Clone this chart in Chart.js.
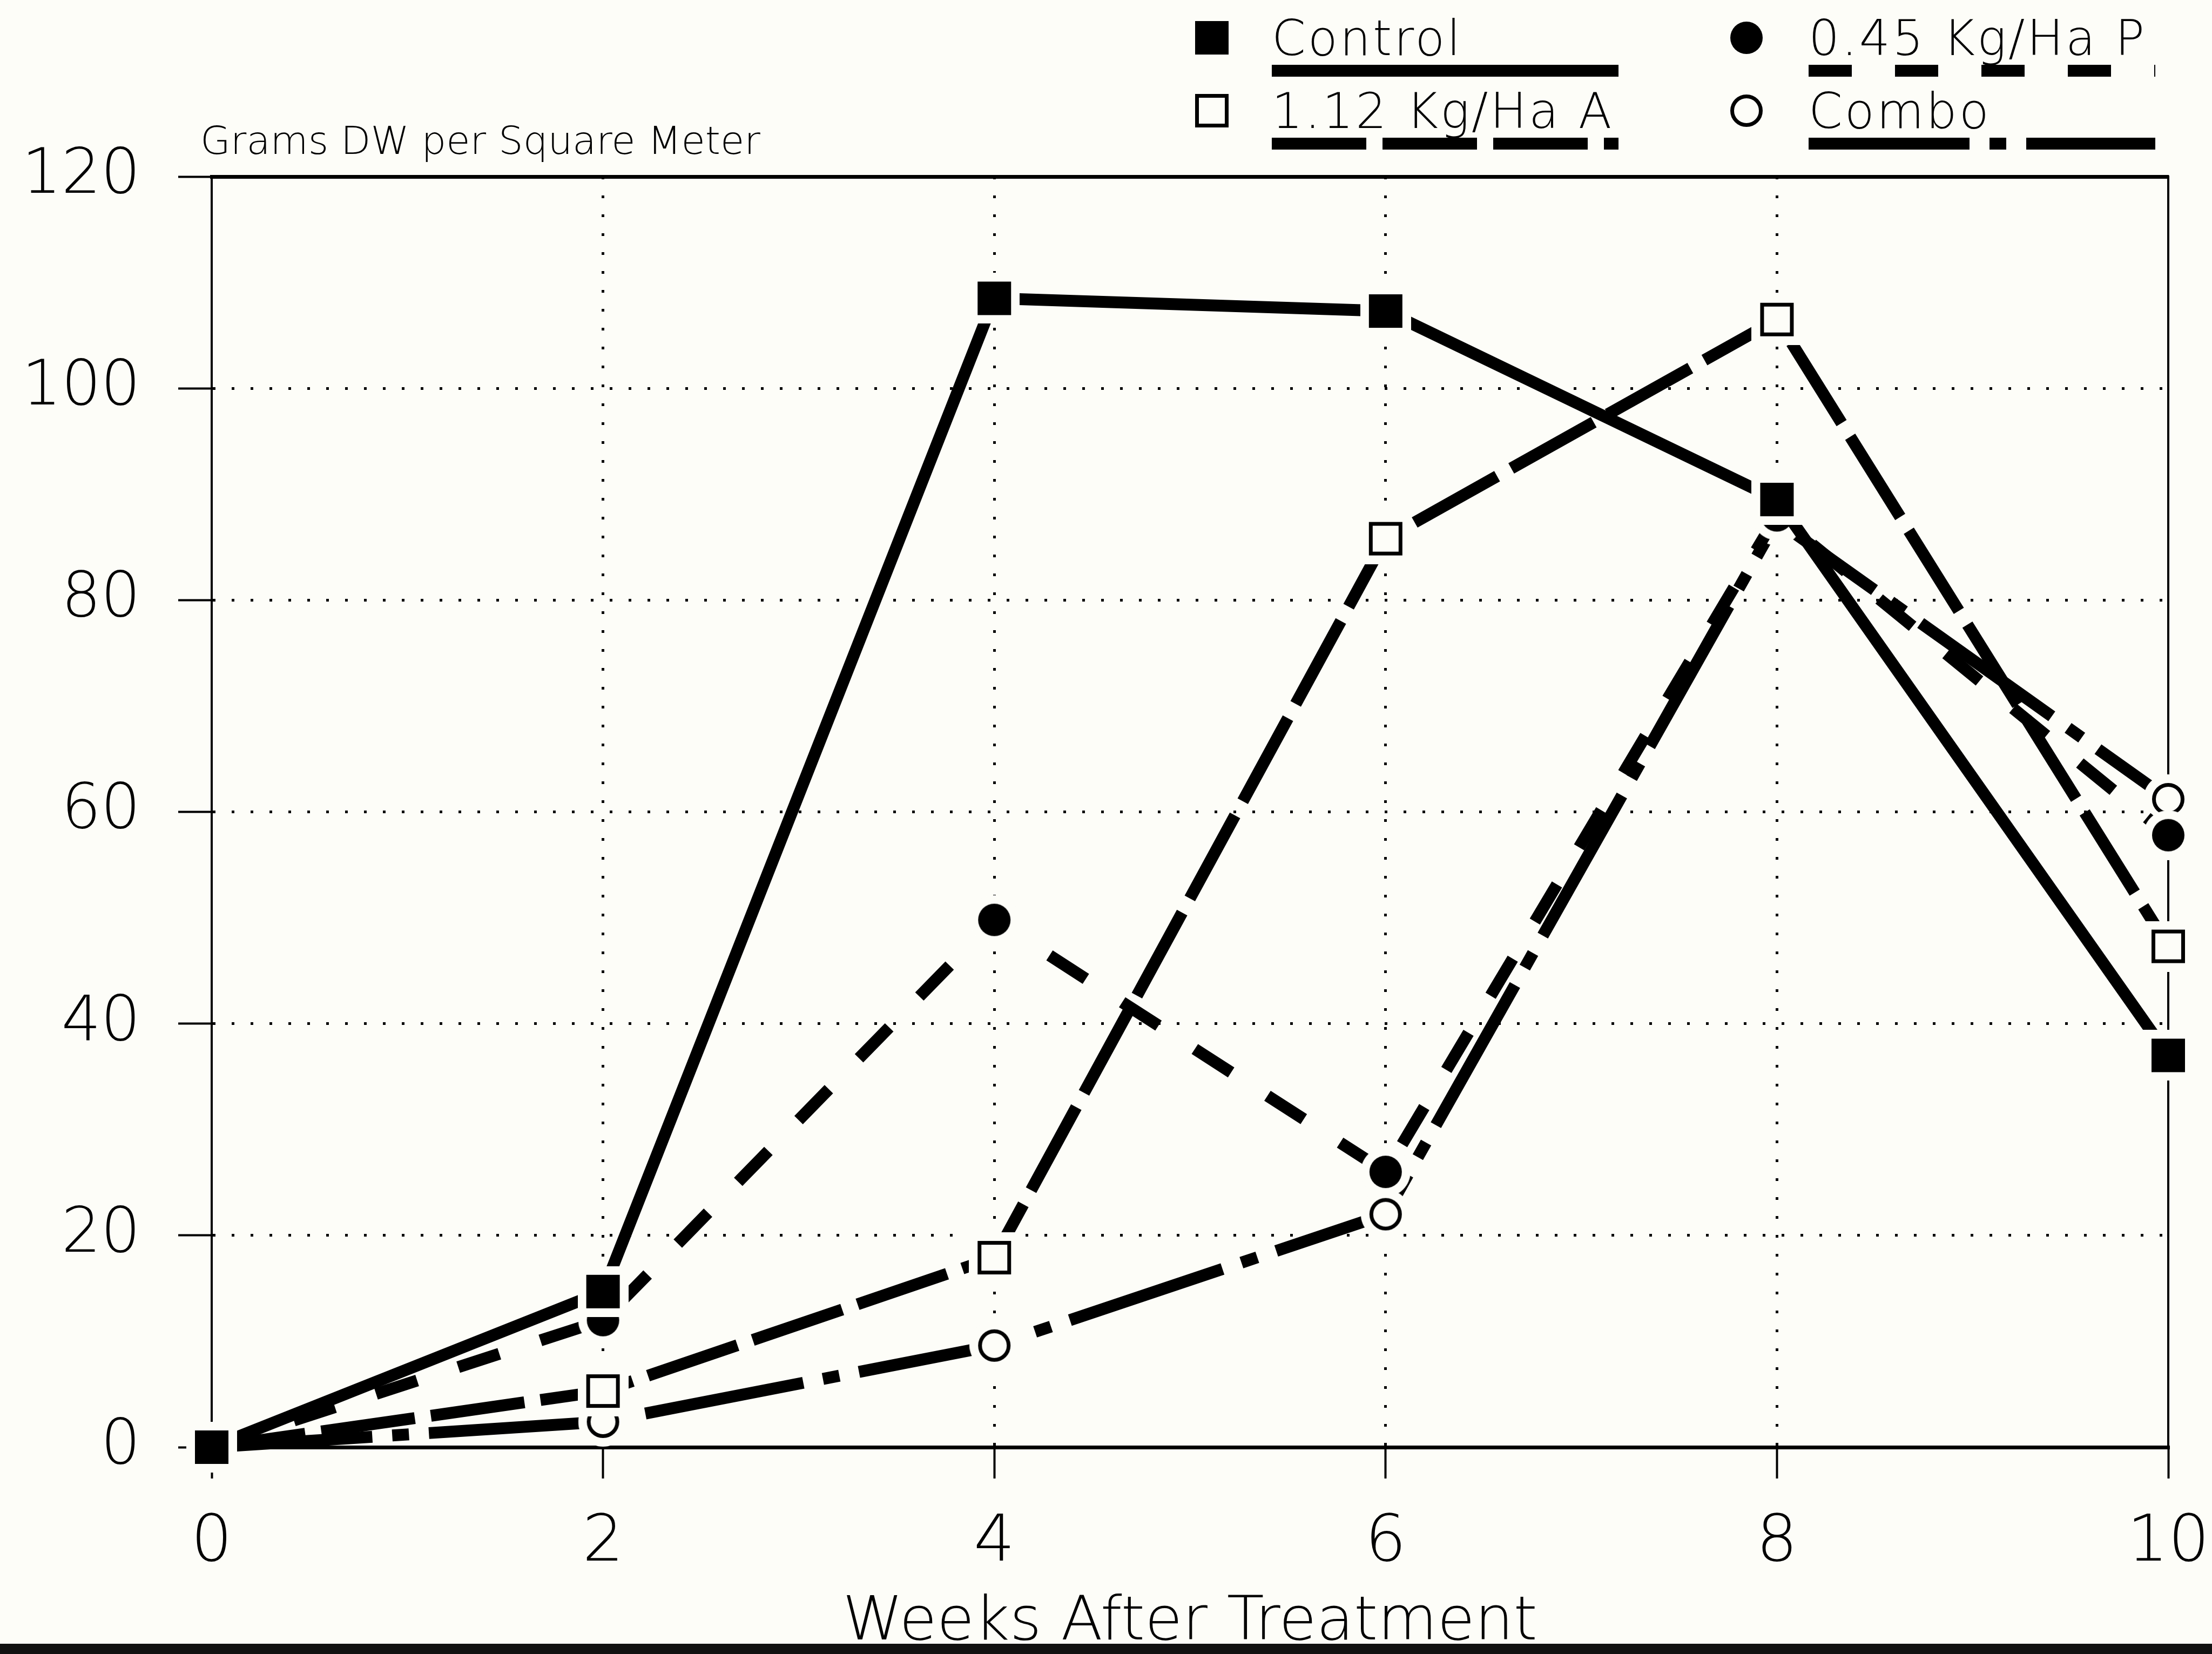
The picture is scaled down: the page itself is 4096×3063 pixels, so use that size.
<!DOCTYPE html>
<html>
<head>
<meta charset="utf-8">
<title>Grams DW per Square Meter</title>
<script src="https://cdn.jsdelivr.net/npm/chart.js@4"></script>
<style>
  html, body { margin: 0; padding: 0; background: #fdfdf8; overflow: hidden; }
  #wrap { position: relative; width: 4096px; height: 3063px; }
  #scanEdge { position: absolute; left: 0; right: 0; bottom: 0; height: 19px; background: #111; }
</style>
</head>
<body>
<div id="wrap">
  <canvas id="growthChart" width="4096" height="3063"></canvas>
  <div id="scanEdge"></div>
</div>
<script>
// Values (grams DW per square meter)
const weeks = [0, 2, 4, 6, 8, 10];
const control = [0, 14.7, 108.5, 107.3, 89.5, 37];
const rateP = [0, 12, 49.8, 26, 88, 57.8];
const rateA = [0, 5.3, 17.9, 85.8, 106.5, 47.3];
const combo = [0, 2.4, 9.6, 22, 87.5, 61.2];
const seriesNames = ['Control', '0.45 Kg/Ha P', '1.12 Kg/Ha A', 'Combo'];
const xTicks = [0, 2, 4, 6, 8, 10];
const yTicks = [0, 20, 40, 60, 80, 100, 120];

const BG = '#fdfdf8';
const FONT = "'DejaVu Sans', sans-serif";
const WEIGHT = '200';

// marker with a background coloured halo, so lines stop short of it
function makeMarker(shape, filled) {
    const size = shape === 'square' ? 62 : 60;
    const halo = 16;
    const full = size + halo * 2;
    const c = document.createElement('canvas');
    c.width = c.height = full;
    const g = c.getContext('2d');
    const mid = full / 2;
    g.fillStyle = BG;
    if (shape === 'square') {
        g.fillRect(0, 0, full, full);
    } else {
        g.beginPath();
        g.arc(mid, mid, full / 2, 0, Math.PI * 2);
        g.fill();
    }
    g.fillStyle = filled ? '#000' : BG;
    g.strokeStyle = '#000';
    g.lineWidth = 7;
    if (shape === 'square') {
        g.fillRect(halo, halo, size, size);
        if (!filled) g.strokeRect(halo + 3.5, halo + 3.5, size - 7, size - 7);
    } else {
        g.beginPath();
        g.arc(mid, mid, size / 2 - (filled ? 0 : 3.5), 0, Math.PI * 2);
        g.fill();
        if (!filled) g.stroke();
    }
    return c;
}

const toPoints = vals => vals.map((v, i) => ({ x: weeks[i], y: v }));

function series(name, vals, marker, dash, order) {
    return {
        label: name,
        data: toPoints(vals),
        borderColor: '#000',
        backgroundColor: '#000',
        borderWidth: 22,
        borderDash: dash,
        pointStyle: marker,
        pointRadius: 31,
        pointHoverRadius: 31,
        tension: 0,
        clip: false,
        order: order
    };
}

// legend drawn like the original: marker, label, line sample underneath
const seriesKey = {
    id: 'seriesKey',
    afterDraw(chart, args, opts) {
        const ctx = chart.ctx;
        ctx.save();
        ctx.fillStyle = '#000';
        ctx.textBaseline = 'alphabetic';
        ctx.textAlign = 'left';
        ctx.font = `${opts.weight} ${opts.captionSize}px ${FONT}`;
        ctx.fillText(opts.caption, opts.captionX, opts.captionY);

        ctx.font = `${opts.weight} ${opts.size}px ${FONT}`;
        ctx.letterSpacing = opts.spacing;
        chart.data.datasets.forEach((ds, i) => {
            const col = i % 2, row = Math.floor(i / 2);
            const mx = opts.markerX[col], tx = opts.textX[col];
            const my = opts.markerY[row];
            const img = ds.pointStyle;
            ctx.drawImage(img, mx - img.width / 2, my - img.height / 2);
            ctx.fillText(ds.label, tx, opts.baseY[row]);
            ctx.strokeStyle = '#000';
            ctx.lineWidth = ds.borderWidth;
            ctx.lineCap = 'butt';
            ctx.setLineDash(ds.borderDash);
            ctx.beginPath();
            ctx.moveTo(tx, opts.lineY[row]);
            ctx.lineTo(tx + opts.lineLen, opts.lineY[row]);
            ctx.stroke();
            ctx.setLineDash([]);
        });
        ctx.restore();
    }
};

const hideEdges = (lo, hi) => ctx => (ctx.tick && (ctx.tick.value === lo || ctx.tick.value === hi)) ? 'rgba(0,0,0,0)' : '#000';

const growthCtx = document.getElementById('growthChart').getContext('2d');
const growthChart = new Chart(growthCtx, {
    type: 'line',
    data: {
        datasets: [
            series(seriesNames[0], control, makeMarker('square', true), [], 0),
            series(seriesNames[1], rateP, makeMarker('circle', true), [80, 80], 1),
            series(seriesNames[2], rateA, makeMarker('square', false), [175, 30], 2),
            series(seriesNames[3], combo, makeMarker('circle', false), [298, 37, 31, 37], 3)
        ]
    },
    options: {
        responsive: false,
        animation: false,
        events: [],
        layout: { padding: 0 },
        plugins: {
            legend: { display: false },
            tooltip: { enabled: false },
            seriesKey: {
                weight: WEIGHT,
                size: 90,
                spacing: '4px',
                captionSize: 72,
                caption: 'Grams DW per Square Meter',
                captionX: 371,
                captionY: 285,
                markerX: [2244, 3234],
                textX: [2355, 3349],
                markerY: [70, 205],
                baseY: [102, 237],
                lineY: [131, 266],
                lineLen: 642
            }
        },
        scales: {
            x: {
                type: 'linear',
                position: 'bottom',
                min: 0,
                max: 10,
                afterBuildTicks: s => { s.ticks = xTicks.map(v => ({ value: v })); },
                afterFit: s => { s.height = 383; s.paddingLeft = 0; s.paddingRight = 0; },
                ticks: {
                    color: '#000',
                    padding: 49,
                    font: { family: FONT, size: 120, weight: WEIGHT }
                },
                grid: {
                    color: hideEdges(0, 10),
                    lineWidth: 5,
                    drawTicks: true,
                    tickLength: 58,
                    tickColor: '#000',
                    tickWidth: 4,
                    tickBorderDash: []
                },
                border: { display: true, color: '#000', width: 7, dash: [5, 30] },
                title: {
                    display: true,
                    text: 'Weeks After Treatment',
                    color: '#000',
                    padding: 0,
                    font: { family: FONT, size: 113, weight: WEIGHT, lineHeight: 1 }
                }
            },
            y: {
                type: 'linear',
                position: 'left',
                min: 0,
                max: 120,
                afterBuildTicks: s => { s.ticks = yTicks.map(v => ({ value: v })); },
                afterFit: s => { s.width = 392; },
                ticks: {
                    color: '#000',
                    padding: 70,
                    font: { family: FONT, size: 115, weight: WEIGHT }
                },
                grid: {
                    color: hideEdges(0, 120),
                    lineWidth: 5,
                    drawTicks: true,
                    tickLength: 62,
                    tickColor: '#000',
                    tickWidth: 4,
                    tickBorderDash: []
                },
                border: { display: true, color: '#000', width: 4, dash: [5, 30] }
            },
            xTop: {
                type: 'linear',
                axis: 'x',
                position: 'top',
                min: 0,
                max: 10,
                afterFit: s => { s.height = 327; },
                ticks: { display: false },
                grid: { display: false },
                border: { display: true, color: '#000', width: 7 }
            },
            yRight: {
                type: 'linear',
                axis: 'y',
                position: 'right',
                min: 0,
                max: 120,
                afterFit: s => { s.width = 81; },
                ticks: { display: false },
                grid: { display: false },
                border: { display: true, color: '#000', width: 4 }
            }
        }
    },
    plugins: [seriesKey]
});
</script>
</body>
</html>
